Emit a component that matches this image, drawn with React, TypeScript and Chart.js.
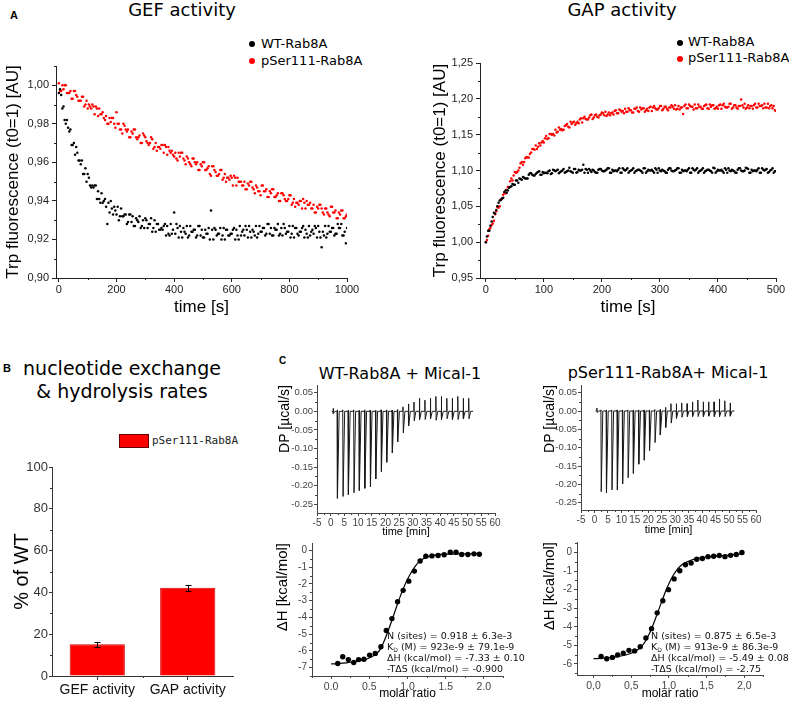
import React, { useEffect, useRef } from "react";
import { Chart, registerables } from "chart.js";

Chart.register(...registerables);

// ================= DATA =================
// Panel A - GEF activity (time in s, Trp fluorescence normalised to t0)
const GEF_TIME = [0,8,16,24,32,40,48,56,64,72,80,88,96,104,112,120,128,136,144,152,160,168,176,184,192,200,208,216,224,232,240,248,256,264,272,280,288,296,304,312,320,328,336,344,352,360,368,376,384,392,400,408,416,424,432,440,448,456,464,472,480,488,496,504,512,520,528,536,544,552,560,568,576,584,592,600,608,616,624,632,640,648,656,664,672,680,688,696,704,712,720,728,736,744,752,760,768,776,784,792,800,808,816,824,832,840,848,856,864,872,880,888,896,904,912,920,928,936,944,952,960,968,976,984,992,1000];
const GEF_WT = [
0.996,0.995,0.989,0.980,0.978,0.977,0.969,0.964,0.965,0.961,
0.961,0.954,0.950,0.952,0.947,0.947,0.948,0.945,0.939,0.939,
0.941,0.928,0.934,0.936,0.937,0.933,0.930,0.936,0.932,0.933,
0.929,0.933,0.932,0.927,0.930,0.932,0.927,0.926,0.930,0.928,
0.931,0.926,0.924,0.928,0.925,0.925,0.928,0.927,0.922,0.923,
0.934,0.928,0.921,0.924,0.926,0.923,0.921,0.927,0.924,0.925,
0.922,0.927,0.925,0.921,0.923,0.926,0.935,0.920,0.925,0.923,
0.926,0.922,0.920,0.925,0.922,0.923,0.926,0.925,0.920,0.922,
0.925,0.927,0.921,0.924,0.925,0.922,0.921,0.927,0.924,0.926,
0.923,0.928,0.926,0.922,0.925,0.928,0.923,0.922,0.926,0.924,
0.927,0.923,0.921,0.926,0.922,0.924,0.927,0.925,0.921,0.922,
0.925,0.927,0.921,0.924,0.916,0.922,0.921,0.927,0.924,0.926,
0.923,0.928,0.926,0.922,0.924,0.926];
const GEF_PSER = [
1.001,0.997,0.998,1.000,0.996,0.997,0.993,0.997,0.994,0.992,
0.994,0.989,0.992,0.990,0.988,0.989,0.989,0.984,0.985,0.986,
0.982,0.980,0.983,0.983,0.980,0.986,0.980,0.977,0.980,0.977,
0.977,0.973,0.975,0.977,0.972,0.974,0.970,0.974,0.971,0.969,
0.973,0.967,0.970,0.968,0.967,0.969,0.969,0.964,0.966,0.966,
0.963,0.962,0.965,0.965,0.962,0.959,0.962,0.959,0.962,0.960,
0.960,0.956,0.958,0.960,0.956,0.958,0.953,0.958,0.955,0.953,
0.956,0.951,0.954,0.952,0.951,0.952,0.953,0.948,0.950,0.950,
0.948,0.946,0.949,0.950,0.947,0.944,0.947,0.945,0.948,0.945,
0.946,0.942,0.944,0.946,0.942,0.944,0.940,0.944,0.941,0.940,
0.943,0.938,0.941,0.939,0.938,0.940,0.941,0.936,0.938,0.939,
0.936,0.934,0.937,0.938,0.936,0.933,0.936,0.933,0.937,0.934,
0.935,0.931,0.933,0.935,0.931,0.933];
// second set of readings, between the first ones
const GEF_TIME_B = [4,12,20,28,36,44,52,60,68,76,84,92,100,108,116,124,132,140,148,156,164,172,180,188,196,204,212,220,228,236,244,252,260,268,276,284,292,300,308,316,324,332,340,348,356,364,372,380,388,396,404,412,420,428,436,444,452,460,468,476,484,492,500,508,516,524,532,540,548,556,564,572,580,588,596,604,612,620,628,636,644,652,660,668,676,684,692,700,708,716,724,732,740,748,756,764,772,780,788,796,804,812,820,828,836,844,852,860,868,876,884,892,900,908,916,924,932,940,948,956,964,972,980,988,996];
const GEF_WT_B = [
0.998,0.988,0.982,0.982,0.976,0.969,0.970,0.968,0.961,0.959,
0.954,0.957,0.954,0.948,0.948,0.948,0.941,0.941,0.944,0.940,
0.937,0.939,0.940,0.933,0.935,0.937,0.932,0.932,0.933,0.928,
0.933,0.929,0.927,0.931,0.929,0.926,0.930,0.931,0.926,0.928,
0.924,0.930,0.928,0.925,0.926,0.927,0.922,0.923,0.928,0.925,
0.923,0.926,0.927,0.921,0.924,0.927,0.922,0.924,0.925,0.921,
0.927,0.922,0.921,0.925,0.923,0.920,0.925,0.926,0.922,0.923,
0.920,0.926,0.925,0.922,0.923,0.925,0.920,0.922,0.927,0.924,
0.922,0.925,0.927,0.921,0.924,0.927,0.923,0.924,0.926,0.922,
0.928,0.923,0.922,0.926,0.925,0.922,0.926,0.928,0.923,0.924,
0.921,0.927,0.926,0.923,0.924,0.926,0.921,0.923,0.927,0.924,
0.923,0.926,0.927,0.921,0.924,0.927,0.923,0.924,0.926,0.922,
0.923,0.926,0.928,0.922,0.918];
const GEF_PSER_B = [
0.997,1.000,1.000,0.996,0.996,0.993,0.997,0.995,0.992,0.992,
0.994,0.990,0.988,0.989,0.990,0.985,0.988,0.988,0.985,0.983,
0.984,0.980,0.981,0.983,0.978,0.980,0.977,0.975,0.979,0.976,
0.973,0.976,0.977,0.973,0.973,0.970,0.975,0.973,0.970,0.970,
0.972,0.968,0.966,0.968,0.969,0.965,0.968,0.968,0.965,0.964,
0.965,0.961,0.963,0.965,0.961,0.963,0.960,0.958,0.962,0.959,
0.956,0.959,0.960,0.956,0.957,0.954,0.958,0.956,0.953,0.954,
0.956,0.952,0.950,0.952,0.953,0.948,0.952,0.952,0.950,0.948,
0.950,0.946,0.948,0.950,0.946,0.948,0.945,0.943,0.948,0.945,
0.942,0.945,0.946,0.942,0.943,0.940,0.944,0.943,0.940,0.941,
0.943,0.939,0.937,0.939,0.940,0.936,0.939,0.940,0.938,0.936,
0.938,0.934,0.936,0.938,0.934,0.936,0.934,0.932,0.937,0.934,
0.931,0.934,0.935,0.931,0.932];
const GEF_X_TICKS = [0, 200, 400, 600, 800, 1000];
const GEF_Y_TICKS = [0.9, 0.92, 0.94, 0.96, 0.98, 1.0];

// Panel A - GAP activity
const GAP_TIME = [0,4,8,12,16,20,24,28,32,36,40,44,48,52,56,60,64,68,72,76,80,84,88,92,96,100,104,108,112,116,120,124,128,132,136,140,144,148,152,156,160,164,168,172,176,180,184,188,192,196,200,204,208,212,216,220,224,228,232,236,240,244,248,252,256,260,264,268,272,276,280,284,288,292,296,300,304,308,312,316,320,324,328,332,336,340,344,348,352,356,360,364,368,372,376,380,384,388,392,396,400,404,408,412,416,420,424,428,432,436,440,444,448,452,456,460,464,468,472,476,480,484,488,492,496,500];
const GAP_WT = [
1.000,1.016,1.023,1.035,1.040,1.050,1.058,1.061,1.070,1.069,
1.076,1.078,1.080,1.086,1.083,1.088,1.091,1.089,1.089,1.096,
1.094,1.093,1.097,1.099,1.094,1.096,1.097,1.099,1.095,1.101,
1.099,1.101,1.098,1.100,1.097,1.099,1.104,1.098,1.102,1.097,
1.101,1.100,1.108,1.102,1.097,1.100,1.101,1.098,1.097,1.102,
1.100,1.099,1.101,1.103,1.097,1.099,1.100,1.101,1.097,1.103,
1.100,1.103,1.099,1.101,1.097,1.100,1.101,1.099,1.103,1.097,
1.101,1.100,1.099,1.103,1.097,1.100,1.101,1.099,1.097,1.103,
1.100,1.099,1.101,1.103,1.097,1.099,1.100,1.101,1.097,1.103,
1.100,1.103,1.099,1.101,1.097,1.100,1.101,1.099,1.104,1.097,
1.101,1.100,1.099,1.103,1.097,1.100,1.101,1.099,1.097,1.103,
1.100,1.099,1.104,1.102,1.097,1.099,1.100,1.101,1.097,1.103,
1.100,1.102,1.098,1.101,1.097,1.099];
const GAP_PSER = [
1.000,1.009,1.020,1.026,1.039,1.049,1.050,1.061,1.069,1.073,
1.077,1.089,1.093,1.097,1.100,1.110,1.108,1.117,1.118,1.123,
1.130,1.129,1.130,1.138,1.139,1.139,1.148,1.145,1.151,1.151,
1.157,1.154,1.157,1.156,1.162,1.165,1.160,1.165,1.168,1.166,
1.166,1.173,1.173,1.172,1.171,1.177,1.172,1.177,1.175,1.177,
1.181,1.177,1.176,1.181,1.180,1.178,1.184,1.180,1.184,1.183,
1.186,1.182,1.184,1.181,1.186,1.188,1.182,1.185,1.187,1.184,
1.183,1.189,1.188,1.187,1.185,1.190,1.184,1.189,1.186,1.188,
1.191,1.186,1.185,1.190,1.188,1.179,1.192,1.187,1.190,1.189,
1.192,1.187,1.189,1.186,1.190,1.192,1.186,1.189,1.191,1.187,
1.186,1.192,1.191,1.189,1.188,1.193,1.186,1.191,1.188,1.190,
1.199,1.188,1.186,1.191,1.190,1.186,1.193,1.188,1.190,1.191,
1.193,1.188,1.187,1.191,1.190,1.183];
const GAP_TIME_B = [2,6,10,14,18,22,26,30,34,38,42,46,50,54,58,62,66,70,74,78,82,86,90,94,98,102,106,110,114,118,122,126,130,134,138,142,146,150,154,158,162,166,170,174,178,182,186,190,194,198,202,206,210,214,218,222,226,230,234,238,242,246,250,254,258,262,266,270,274,278,282,286,290,294,298,302,306,310,314,318,322,326,330,334,338,342,346,350,354,358,362,366,370,374,378,382,386,390,394,398,402,406,410,414,418,422,426,430,434,438,442,446,450,454,458,462,466,470,474,478,482,486,490,494,498];
const GAP_WT_B = [
1.008,1.016,1.029,1.041,1.045,1.055,1.059,1.062,1.072,1.072,
1.077,1.081,1.080,1.086,1.089,1.087,1.090,1.089,1.094,1.096,
1.093,1.095,1.098,1.094,1.098,1.097,1.096,1.100,1.096,1.100,
1.100,1.096,1.099,1.102,1.098,1.100,1.099,1.097,1.102,1.098,
1.100,1.101,1.097,1.101,1.102,1.098,1.100,1.097,1.101,1.102,
1.099,1.100,1.103,1.097,1.101,1.100,1.099,1.103,1.097,1.101,
1.101,1.097,1.100,1.103,1.099,1.101,1.100,1.097,1.103,1.099,
1.100,1.101,1.097,1.101,1.103,1.099,1.100,1.097,1.101,1.103,
1.099,1.100,1.103,1.097,1.101,1.100,1.099,1.103,1.097,1.101,
1.101,1.097,1.100,1.103,1.099,1.101,1.100,1.097,1.103,1.099,
1.100,1.101,1.097,1.101,1.103,1.099,1.100,1.097,1.101,1.103,
1.099,1.100,1.103,1.097,1.101,1.100,1.099,1.103,1.097,1.101,
1.101,1.097,1.100,1.103,1.099];
const GAP_PSER_B = [
1.003,1.018,1.024,1.030,1.043,1.048,1.060,1.066,1.068,1.077,
1.085,1.086,1.098,1.098,1.104,1.112,1.112,1.119,1.118,1.125,
1.130,1.135,1.133,1.135,1.141,1.145,1.144,1.151,1.150,1.149,
1.153,1.160,1.158,1.157,1.163,1.161,1.168,1.167,1.164,1.168,
1.171,1.167,1.175,1.171,1.174,1.178,1.174,1.178,1.174,1.178,
1.180,1.182,1.178,1.177,1.181,1.183,1.180,1.185,1.182,1.180,
1.182,1.187,1.184,1.181,1.186,1.183,1.188,1.187,1.182,1.186,
1.188,1.183,1.190,1.185,1.187,1.190,1.186,1.189,1.184,1.188,
1.189,1.191,1.186,1.185,1.188,1.190,1.187,1.192,1.189,1.185,
1.187,1.192,1.189,1.186,1.191,1.187,1.192,1.191,1.186,1.189,
1.191,1.186,1.193,1.188,1.189,1.193,1.188,1.191,1.186,1.190,
1.191,1.193,1.188,1.187,1.190,1.191,1.188,1.193,1.190,1.187,
1.188,1.193,1.190,1.187,1.184];
const GAP_X_TICKS = [0, 100, 200, 300, 400, 500];
const GAP_Y_TICKS = [0.95, 1.0, 1.05, 1.1, 1.15, 1.2, 1.25];

// Panel B - rates as % of WT
const BAR_CATEGORIES = ["GEF activity", "GAP activity"];
const BAR_VALUES = [15.2, 42.2];
const BAR_ERRORS = [1.2, 1.3];
const BAR_Y_TICKS = [0, 20, 40, 60, 80, 100];

// Panel C - raw ITC thermograms (injection time in min, peak heights in µcal/s)
const ITC_INJ_TIMES = [0.9,2.4,4.4,6.4,8.4,10.4,12.4,14.4,16.4,18.4,20.4,22.4,24.4,26.4,28.4,30.4,32.4,34.4,36.4,38.4,40.4,42.4,44.4,46.4,48.4,50.4];
const ITC_WT_DOWN = [-0.006,-0.234,-0.229,-0.224,-0.219,-0.213,-0.207,-0.203,-0.182,-0.162,-0.137,-0.112,-0.082,-0.058,-0.039,-0.026,-0.022,-0.022,-0.020,-0.024,-0.022,-0.020,-0.022,-0.022,-0.020,-0.020];
const ITC_WT_UP = [0.008,0.004,0.004,0.003,0.004,0.003,0.004,0.003,0.003,0.004,0.004,0.003,0.005,0.012,0.020,0.025,0.035,0.030,0.035,0.040,0.040,0.035,0.035,0.040,0.035,0.035];
const ITC_PS_DOWN = [-0.004,-0.220,-0.223,-0.215,-0.215,-0.199,-0.182,-0.170,-0.145,-0.134,-0.108,-0.086,-0.065,-0.045,-0.033,-0.020,-0.017,-0.015,-0.015,-0.015,-0.015,-0.014,-0.015,-0.015,-0.015,-0.014];
const ITC_PS_UP = [0.008,0.003,0.003,0.003,0.003,0.003,0.003,0.003,0.003,0.003,0.003,0.004,0.005,0.010,0.020,0.020,0.022,0.020,0.025,0.030,0.025,0.025,0.025,0.033,0.028,0.022];
const ITC_TRACE_START = 0.4;
const ITC_TRACE_END = 52.0;
const ITC_RAW_X_TICKS = [-5,0,5,10,15,20,25,30,35,40,45,50,55,60];
const ITC_RAW_Y_TICKS = [0.05,0,-0.05,-0.1,-0.15,-0.2,-0.25];

// Panel C - integrated isotherms (molar ratio, kcal/mol)
const ITC_WT_RATIO = [0.087,0.152,0.226,0.296,0.36,0.43,0.504,0.578,0.652,0.722,0.796,0.87,0.943,1.017,1.09,1.165,1.24,1.32,1.40,1.48,1.56,1.635,1.71,1.79,1.87,1.94];
const ITC_WT_DH = [-6.75,-6.35,-6.52,-6.69,-6.52,-6.5,-6.25,-6.15,-5.75,-4.78,-4.07,-3.06,-2.38,-1.83,-1.23,-0.63,-0.34,-0.32,-0.30,-0.25,-0.10,-0.10,-0.24,-0.24,-0.20,-0.22];
const ITC_WT_FIT_X = [0.0,0.1,0.2,0.3,0.4,0.5,0.6,0.65,0.7,0.75,0.8,0.85,0.9,0.95,1.0,1.05,1.1,1.15,1.2,1.3,1.4,1.5,1.7,1.95];
const ITC_WT_FIT_Y = [-6.78,-6.75,-6.71,-6.65,-6.57,-6.42,-6.15,-5.85,-5.35,-4.75,-4.12,-3.45,-2.8,-2.22,-1.72,-1.3,-0.95,-0.68,-0.5,-0.32,-0.25,-0.22,-0.2,-0.19];
const ITC_PS_RATIO = [0.10,0.175,0.25,0.32,0.395,0.47,0.545,0.62,0.695,0.77,0.845,0.92,0.995,1.07,1.145,1.22,1.295,1.37,1.445,1.52,1.595,1.67,1.745,1.82,1.895,1.97];
const ITC_PS_DH = [-5.6,-5.72,-5.65,-5.52,-5.42,-5.27,-5.3,-5.08,-4.6,-4.1,-3.25,-2.6,-2.0,-1.42,-0.98,-0.66,-0.56,-0.36,-0.32,-0.22,-0.2,-0.16,-0.22,-0.15,-0.1,0.0];
const ITC_PS_FIT_X = [0.0,0.1,0.2,0.3,0.4,0.5,0.6,0.65,0.7,0.75,0.8,0.85,0.9,0.95,1.0,1.05,1.1,1.15,1.2,1.3,1.4,1.5,1.7,1.9,2.0];
const ITC_PS_FIT_Y = [-5.72,-5.7,-5.67,-5.62,-5.55,-5.43,-5.2,-5.0,-4.7,-4.3,-3.8,-3.25,-2.7,-2.15,-1.68,-1.28,-0.97,-0.74,-0.58,-0.4,-0.3,-0.24,-0.17,-0.1,-0.06];
const ITC_ISO_X_TICKS = [0, 0.5, 1, 1.5, 2];
const ITC_WT_ISO_Y_TICKS = [0,-1,-2,-3,-4,-5,-6,-7];
const ITC_PS_ISO_Y_TICKS = [0,-1,-2,-3,-4,-5,-6];

// ================= STYLE HELPERS =================
const SANS = "'Liberation Sans', Arial, sans-serif";
const DEJAVU = "'DejaVu Sans', Verdana, sans-serif";
const MONO = "'DejaVu Sans Mono', 'Liberation Mono', monospace";
const RED = "#ff0000";

type Plot = { l: number; t: number; r: number; b: number };
type Geom = { x: number; y: number; w: number; h: number; yW: number; xH: number; padTop: number; padRight: number };

function makeGeom(plot: Plot, yTitleCx: number, yTitleSize: number, bottom: number, padTop: number, padRight: number): Geom {
  const x = Math.round(yTitleCx - 0.6 * yTitleSize);
  const y = plot.t - padTop;
  return { x, y, w: plot.r + padRight - x, h: bottom - y, yW: plot.l - x, xH: bottom - plot.b, padTop, padRight };
}

const comma = (d: number) => (v: number) => v.toFixed(d).replace(".", ",");
const dot = (d: number) => (v: number) => v.toFixed(d);

interface AxisOpts {
  min: number; max: number; ticks: number[]; fmt: (v: number) => string;
  horizontal: boolean; size: number; tickFont: number; tickColor: string; axisColor: string;
  tickLen?: number; tickPad?: number; title?: string; titleFont?: number; titleAlign?: string;
}

function linAxis(o: AxisOpts) {
  return {
    type: "linear",
    min: o.min,
    max: o.max,
    bounds: "data",
    afterBuildTicks: (s: any) => { s.ticks = o.ticks.map((v) => ({ value: v })); },
    afterFit: (s: any) => { if (o.horizontal) s.height = o.size; else s.width = o.size; },
    grid: { display: true, drawOnChartArea: false, drawTicks: true, tickLength: o.tickLen ?? 4, tickWidth: 1, tickColor: o.axisColor, color: o.axisColor, lineWidth: 1 },
    border: { display: true, color: o.axisColor, width: 1 },
    ticks: { autoSkip: false, maxRotation: 0, minRotation: 0, padding: o.tickPad ?? 2, color: o.tickColor, font: { family: SANS, size: o.tickFont }, callback: (v: any) => o.fmt(Number(v)) },
    title: o.title
      ? { display: true, text: o.title, color: "#000", align: o.titleAlign ?? "center", padding: { top: 0, bottom: 0 }, font: { family: SANS, size: o.titleFont ?? 14 } }
      : { display: false },
  };
}

function minorTicks(len: number, color: string) {
  return {
    id: "minorTicks",
    afterDraw(chart: any) {
      const ctx = chart.ctx;
      const area = chart.chartArea;
      ctx.save();
      ctx.strokeStyle = color;
      ctx.lineWidth = 1;
      ["x", "y"].forEach((id) => {
        const s = chart.scales[id];
        if (!s) return;
        const vals: number[] = s.ticks.map((t: any) => t.value);
        const mids: number[] = [];
        for (let i = 0; i < vals.length - 1; i++) mids.push((vals[i] + vals[i + 1]) / 2);
        if (s.type !== "category" && vals.length > 1) {
          const step = vals[1] - vals[0];
          const lo = Math.min(s.min, s.max);
          const hi = Math.max(s.min, s.max);
          const before = vals[0] - step / 2;
          const after = vals[vals.length - 1] + step / 2;
          if (before >= lo && before <= hi) mids.push(before);
          if (after >= lo && after <= hi) mids.push(after);
        }
        mids.forEach((v) => {
          const p = Math.round(s.getPixelForValue(v)) + 0.5;
          ctx.beginPath();
          if (id === "x") { ctx.moveTo(p, area.bottom); ctx.lineTo(p, area.bottom + len); }
          else { ctx.moveTo(area.left, p); ctx.lineTo(area.left - len, p); }
          ctx.stroke();
        });
      });
      ctx.restore();
    },
  };
}

function errorBars(errors: number[]) {
  return {
    id: "errorBars",
    afterDatasetsDraw(chart: any) {
      const meta = chart.getDatasetMeta(0);
      const ys = chart.scales.y;
      const vals = chart.data.datasets[0].data as number[];
      const ctx = chart.ctx;
      ctx.save();
      ctx.strokeStyle = "#000";
      ctx.lineWidth = 1;
      meta.data.forEach((el: any, i: number) => {
        const x = Math.round(el.x) + 0.5;
        const top = Math.round(ys.getPixelForValue(vals[i] + errors[i])) + 0.5;
        const bot = Math.round(ys.getPixelForValue(vals[i] - errors[i])) + 0.5;
        ctx.beginPath();
        ctx.moveTo(x, top); ctx.lineTo(x, bot);
        ctx.moveTo(x - 3, top); ctx.lineTo(x + 3, top);
        ctx.moveTo(x - 3, bot); ctx.lineTo(x + 3, bot);
        ctx.stroke();
      });
      ctx.restore();
    },
  };
}

function baseOptions(g: Geom, scales: any) {
  return {
    animation: false,
    responsive: false,
    devicePixelRatio: 1,
    events: [],
    layout: { padding: { top: g.padTop, right: g.padRight, left: 0, bottom: 0 } },
    plugins: { legend: { display: false }, tooltip: { enabled: false }, title: { display: false } },
    scales,
  };
}

const pairs = (xs: number[], ys: number[]) => xs.map((x, i) => ({ x, y: ys[i] }));

function buildTrace(times: number[], down: number[], up: number[]) {
  const pts: { x: number; y: number }[] = [{ x: ITC_TRACE_START, y: 0 }];
  times.forEach((t, i) => {
    pts.push({ x: t - 0.05, y: 0 }, { x: t, y: up[i] }, { x: t + 0.12, y: down[i] }, { x: t + 0.7, y: 0 });
  });
  pts.push({ x: ITC_TRACE_END, y: 0 });
  return pts;
}

// ================= GEOMETRY =================
const gefGeom = makeGeom({ l: 56, t: 66, r: 347, b: 278 }, 13, 17, 318, 10, 16);
const gapGeom = makeGeom({ l: 480, t: 63, r: 776, b: 278 }, 440, 17, 318, 10, 12);
const barGeom = makeGeom({ l: 52, t: 467, r: 233, b: 676 }, 22, 20, 703, 10, 16);
const rawWtGeom = makeGeom({ l: 317, t: 385, r: 495, b: 513 }, 285, 14, 539, 8, 8);
const rawPsGeom = makeGeom({ l: 581, t: 385, r: 756, b: 510 }, 550, 14, 537, 8, 8);
const isoWtGeom = makeGeom({ l: 312, t: 543, r: 503, b: 676 }, 283, 15, 701, 8, 8);
const isoPsGeom = makeGeom({ l: 577, t: 542, r: 763, b: 675 }, 550, 15, 701, 8, 10);

// ================= CHART BUILDERS =================
function kineticsConfig(g: Geom, wt: { x: number; y: number }[], ps: { x: number; y: number }[], xr: [number, number], yr: [number, number], xt: number[], yt: number[]) {
  return {
    type: "scatter",
    data: {
      datasets: [
        { label: "WT-Rab8A", data: wt, backgroundColor: "#000", borderWidth: 0, pointRadius: 1.25 },
        { label: "pSer111-Rab8A", data: ps, backgroundColor: RED, borderWidth: 0, pointRadius: 1.25 },
      ],
    },
    options: baseOptions(g, {
      x: linAxis({ min: xr[0], max: xr[1], ticks: xt, fmt: dot(0), horizontal: true, size: g.xH, tickFont: 11, tickColor: "#222", axisColor: "#222", tickPad: 1, title: "time [s]", titleFont: 17 }),
      y: linAxis({ min: yr[0], max: yr[1], ticks: yt, fmt: comma(2), horizontal: false, size: g.yW, tickFont: 11, tickColor: "#222", axisColor: "#222", tickPad: 3, title: "Trp fluorescence (t0=1) [AU]", titleFont: 17 }),
    }),
    plugins: [minorTicks(2, "#222")],
  };
}

function barConfig(g: Geom) {
  return {
    type: "bar",
    data: {
      labels: BAR_CATEGORIES,
      datasets: [{ label: "pSer111-Rab8A", data: BAR_VALUES, backgroundColor: RED, borderColor: "#d00000", borderWidth: 1, barPercentage: 0.61, categoryPercentage: 1 }],
    },
    options: baseOptions(g, {
      x: {
        type: "category",
        offset: true,
        afterFit: (s: any) => { s.height = g.xH; },
        grid: { display: true, drawOnChartArea: false, drawTicks: true, tickLength: 4, offset: false, tickColor: "#333", color: "#333" },
        border: { display: true, color: "#333", width: 1 },
        ticks: { autoSkip: false, maxRotation: 0, minRotation: 0, padding: 2, color: "#111", font: { family: SANS, size: 14 } },
      },
      y: linAxis({ min: 0, max: 100, ticks: BAR_Y_TICKS, fmt: dot(0), horizontal: false, size: g.yW, tickFont: 13, tickColor: "#333", axisColor: "#333", tickLen: 3, tickPad: 1, title: "% of WT", titleFont: 20 }),
    }),
    plugins: [minorTicks(2, "#333"), errorBars(BAR_ERRORS)],
  };
}

function rawConfig(g: Geom, down: number[], up: number[], yr: [number, number]) {
  return {
    type: "scatter",
    data: {
      datasets: [
        { label: "DP", data: buildTrace(ITC_INJ_TIMES, down, up), showLine: true, borderColor: "#1a1a1a", borderWidth: 1, pointRadius: 0, tension: 0 },
      ],
    },
    options: baseOptions(g, {
      x: linAxis({ min: -5, max: 60, ticks: ITC_RAW_X_TICKS, fmt: dot(0), horizontal: true, size: g.xH, tickFont: 10, tickColor: "#444", axisColor: "#444", tickLen: 3, tickPad: 1, title: "time [min]", titleFont: 11 }),
      y: linAxis({ min: yr[0], max: yr[1], ticks: ITC_RAW_Y_TICKS, fmt: dot(2), horizontal: false, size: g.yW, tickFont: 9.5, tickColor: "#444", axisColor: "#444", tickLen: 3, tickPad: 1, title: "DP [µcal/s]", titleFont: 14, titleAlign: "end" }),
    }),
    plugins: [minorTicks(2, "#444")],
  };
}

function isoConfig(g: Geom, rx: number[], dh: number[], fx: number[], fy: number[], xr: [number, number], yr: [number, number], yt: number[], fmtX: (v: number) => string) {
  return {
    type: "scatter",
    data: {
      datasets: [
        { label: "data", data: pairs(rx, dh), backgroundColor: "#000", borderWidth: 0, pointRadius: 2.7 },
        { label: "fit", data: pairs(fx, fy), showLine: true, borderColor: "#000", borderWidth: 1.2, pointRadius: 0, cubicInterpolationMode: "monotone" },
      ],
    },
    options: baseOptions(g, {
      x: linAxis({ min: xr[0], max: xr[1], ticks: ITC_ISO_X_TICKS, fmt: fmtX, horizontal: true, size: g.xH, tickFont: 10.5, tickColor: "#444", axisColor: "#444", tickLen: 3, tickPad: 2, title: "molar ratio", titleFont: 12 }),
      y: linAxis({ min: yr[0], max: yr[1], ticks: yt, fmt: dot(0), horizontal: false, size: g.yW, tickFont: 10, tickColor: "#444", axisColor: "#444", tickLen: 3, tickPad: 2, title: "ΔH [kcal/mol]", titleFont: 15, titleAlign: "end" }),
    }),
    plugins: [minorTicks(2, "#444")],
  };
}

// ================= COMPONENTS =================
function ChartCanvas({ g, config }: { g: Geom; config: () => any }) {
  const ref = useRef<HTMLCanvasElement | null>(null);
  useEffect(() => {
    if (!ref.current) return;
    const chart = new Chart(ref.current, config());
    return () => chart.destroy();
  }, []);
  return <canvas ref={ref} width={g.w} height={g.h} style={{ position: "absolute", left: g.x, top: g.y, width: g.w, height: g.h }} />;
}

function Txt({ x, y, size, family = DEJAVU, weight = 400, children, center, color = "#000" }: any) {
  const style: React.CSSProperties = {
    position: "absolute", top: y, fontSize: size, fontFamily: family, fontWeight: weight, lineHeight: 1.2, whiteSpace: "nowrap", color,
  };
  if (center) { style.left = x - 200; style.width = 400; style.textAlign = "center"; }
  else style.left = x;
  return <div style={style}>{children}</div>;
}

function LegendDot({ x, y, color }: any) {
  return <div style={{ position: "absolute", left: x - 3, top: y - 3, width: 6, height: 6, borderRadius: 3, background: color }} />;
}

function Annot({ x, y, lines }: any) {
  return (
    <div style={{ position: "absolute", left: x, top: y, fontFamily: DEJAVU, fontSize: 9.5, lineHeight: "10.5px", whiteSpace: "nowrap", color: "#111" }}>
      {lines.map((l: any, i: number) => <div key={i}>{l}</div>)}
    </div>
  );
}

const sub = (s: string) => <span style={{ fontSize: 6, position: "relative", top: 2 }}>{s}</span>;

export default function App() {
  const gefWt = pairs(GEF_TIME, GEF_WT).concat(pairs(GEF_TIME_B, GEF_WT_B));
  const gefPs = pairs(GEF_TIME, GEF_PSER).concat(pairs(GEF_TIME_B, GEF_PSER_B));
  const gapWt = pairs(GAP_TIME, GAP_WT).concat(pairs(GAP_TIME_B, GAP_WT_B));
  const gapPs = pairs(GAP_TIME, GAP_PSER).concat(pairs(GAP_TIME_B, GAP_PSER_B));
  return (
    <div style={{ position: "absolute", left: 0, top: 0, width: 789, height: 703, overflow: "hidden", background: "#fff" }}>
      {/* ---------- Panel A ---------- */}
      <Txt x={10} y={9} size={11} family={SANS} weight={700}>A</Txt>
      <Txt x={182} y={-1} size={18} center>GEF activity</Txt>
      <Txt x={622} y={-1} size={18} center>GAP activity</Txt>

      <LegendDot x={252} y={44} color="#000" />
      <Txt x={261} y={36} size={13}>WT-Rab8A</Txt>
      <LegendDot x={252} y={61} color={RED} />
      <Txt x={261} y={53} size={13}>pSer111-Rab8A</Txt>

      <LegendDot x={680} y={43} color="#000" />
      <Txt x={688} y={34} size={13}>WT-Rab8A</Txt>
      <LegendDot x={680} y={59} color={RED} />
      <Txt x={688} y={50} size={13}>pSer111-Rab8A</Txt>

      <ChartCanvas g={gefGeom} config={() => kineticsConfig(gefGeom, gefWt, gefPs, [-10, 1000], [0.9, 1.01], GEF_X_TICKS, GEF_Y_TICKS)} />
      <ChartCanvas g={gapGeom} config={() => kineticsConfig(gapGeom, gapWt, gapPs, [-10, 500], [0.95, 1.25], GAP_X_TICKS, GAP_Y_TICKS)} />

      {/* ---------- Panel B ---------- */}
      <Txt x={3} y={362} size={11} family={SANS} weight={700}>B</Txt>
      <Txt x={122} y={357} size={19} center>nucleotide exchange</Txt>
      <Txt x={122} y={380} size={19} center>&amp; hydrolysis rates</Txt>
      <div style={{ position: "absolute", left: 119, top: 434, width: 28, height: 12, background: RED, border: "1px solid #600" }} />
      <Txt x={152} y={434} size={11} family={MONO} color="#222">pSer111-Rab8A</Txt>
      <ChartCanvas g={barGeom} config={() => barConfig(barGeom)} />

      {/* ---------- Panel C ---------- */}
      <Txt x={279} y={355} size={10} family={SANS} weight={700}>C</Txt>
      <Txt x={400} y={364} size={16} center>WT-Rab8A + Mical-1</Txt>
      <Txt x={668} y={363} size={16} center>pSer111-Rab8A+ Mical-1</Txt>
      <ChartCanvas g={rawWtGeom} config={() => rawConfig(rawWtGeom, ITC_WT_DOWN, ITC_WT_UP, [-0.2735, 0.0708])} />
      <ChartCanvas g={rawPsGeom} config={() => rawConfig(rawPsGeom, ITC_PS_DOWN, ITC_PS_UP, [-0.27, 0.071])} />
      <ChartCanvas g={isoWtGeom} config={() => isoConfig(isoWtGeom, ITC_WT_RATIO, ITC_WT_DH, ITC_WT_FIT_X, ITC_WT_FIT_Y, [-0.25, 2.25], [-7.5, 0.45], ITC_WT_ISO_Y_TICKS, dot(1))} />
      <ChartCanvas g={isoPsGeom} config={() => isoConfig(isoPsGeom, ITC_PS_RATIO, ITC_PS_DH, ITC_PS_FIT_X, ITC_PS_FIT_Y, [-0.22, 2.25], [-6.6, 0.57], ITC_PS_ISO_Y_TICKS, comma(1))} />

      <Annot x={387} y={631} lines={[
        "N (sites) = 0.918 ± 6.3e-3",
        <>K{sub("D")} (M) = 923e-9 ± 79.1e-9</>,
        "ΔH (kcal/mol) = -7.33 ± 0.10",
        "-TΔS (kcal/mol) = -0.900",
      ]} />
      <Annot x={651} y={631} lines={[
        "N (sites) = 0.875 ± 6.5e-3",
        <>K{sub("D")} (M) = 913e-9 ± 86.3e-9</>,
        "ΔH (kcal/mol) = -5.49 ± 0.08",
        "-TΔS (kcal/mol) = -2.75",
      ]} />
    </div>
  );
}
